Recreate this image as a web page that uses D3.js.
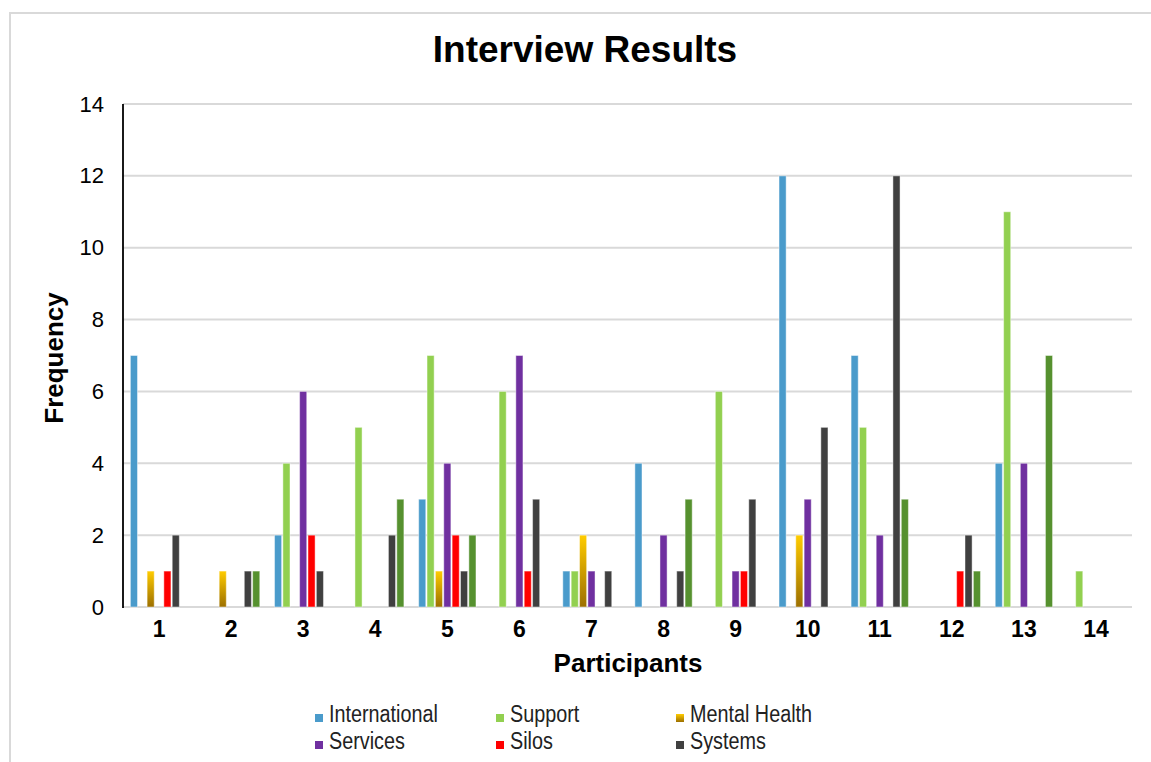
<!DOCTYPE html>
<html>
<head>
<meta charset="utf-8">
<script src="https://cdn.jsdelivr.net/npm/d3@7"></script>
<style>
  html, body { margin: 0; padding: 0; background: #fff; }
  svg { display: block; font-family: "Liberation Sans", Arial, Helvetica, sans-serif; }
</style>
</head>
<body>
<svg id="chart" width="1151" height="762"></svg>
<script>
// Participants on the x axis
const participants = ["1","2","3","4","5","6","7","8","9","10","11","12","13","14"];

// Theme counts per participant
const international = [7, 0, 2, 0, 3, 0, 1, 4, 0, 12, 7, 0, 4, 0];
const support       = [0, 0, 4, 5, 7, 6, 1, 0, 6, 0, 5, 0, 11, 1];
const mentalHealth  = [1, 1, 0, 0, 1, 0, 2, 0, 0, 2, 0, 0, 0, 0];
const services      = [0, 0, 6, 0, 4, 7, 1, 2, 1, 3, 2, 0, 4, 0];
const silos         = [1, 0, 2, 0, 2, 1, 0, 0, 1, 0, 0, 1, 0, 0];
const systems       = [2, 1, 1, 2, 1, 3, 1, 1, 3, 5, 12, 2, 0, 0];
const seventh       = [0, 1, 0, 3, 2, 0, 0, 3, 0, 0, 3, 1, 7, 0];

const seriesNames = ["International", "Support", "Mental Health", "Services", "Silos", "Systems", ""];
const seriesValues = [international, support, mentalHealth, services, silos, systems, seventh];
const seriesColors = ["#4a9bcb", "#92d050", "url(#goldGrad)", "#7030a0", "#ff0000", "#404040", "#56912f"];
const yTicks = [0, 2, 4, 6, 8, 10, 12, 14];

const svg = d3.select("#chart");
const W = 1151, H = 762;
const plot = { left: 123, right: 1132, top: 104, bottom: 607 };

// Gold-to-bronze fill used by the Mental Health bars
const defs = svg.append("defs");
const grad = defs.append("linearGradient")
  .attr("id", "goldGrad").attr("x1", 0).attr("y1", 0).attr("x2", 0).attr("y2", 1);
grad.append("stop").attr("offset", "0%").attr("stop-color", "#ffcc00");
grad.append("stop").attr("offset", "100%").attr("stop-color", "#9c6f00");

svg.append("rect").attr("width", W).attr("height", H).attr("fill", "#fff");

// Chart frame
svg.append("rect")
  .attr("x", 10).attr("y", 13).attr("width", 1160).attr("height", 770)
  .attr("fill", "none").attr("stroke", "#d9d9d9").attr("stroke-width", 2);

const x0 = d3.scaleBand()
  .domain(participants)
  .range([plot.left, plot.right])
  .paddingInner(0.17)
  .paddingOuter(0.085);

const x1 = d3.scaleBand()
  .domain(d3.range(seriesNames.length))
  .range([0, x0.bandwidth()])
  .padding(0.15);

const y = d3.scaleLinear().domain([0, 14]).range([plot.bottom, plot.top]);

// Horizontal gridlines
svg.append("g")
  .selectAll("line")
  .data(yTicks)
  .join("line")
  .attr("x1", plot.left).attr("x2", plot.right)
  .attr("y1", d => y(d)).attr("y2", d => y(d))
  .attr("stroke", "#d9d9d9").attr("stroke-width", 2);

// Y axis tick labels
const yAxis = svg.append("g")
  .attr("transform", `translate(${plot.left},0)`)
  .call(d3.axisLeft(y).tickValues(yTicks).tickSize(0).tickPadding(19));
yAxis.select(".domain").remove();
yAxis.selectAll("text")
  .attr("font-size", 22).attr("fill", "#000")
  .attr("font-family", "'Liberation Sans', Arial, sans-serif");

// Bars
const rows = participants.map((p, i) => ({ p, vals: seriesValues.map(s => s[i]) }));
const groups = svg.append("g").selectAll("g")
  .data(rows)
  .join("g")
  .attr("transform", d => `translate(${x0(d.p)},0)`);

groups.selectAll("rect")
  .data(d => d.vals.map((v, k) => ({ v, k })).filter(e => e.v > 0))
  .join("rect")
  .attr("x", e => x1(e.k))
  .attr("width", x1.bandwidth())
  .attr("y", e => y(e.v))
  .attr("height", e => y(0) - y(e.v))
  .attr("fill", e => seriesColors[e.k])
  .attr("stroke", "rgba(255,255,255,0.45)")
  .attr("stroke-width", 1);

// Y axis line
svg.append("line")
  .attr("x1", plot.left).attr("x2", plot.left)
  .attr("y1", plot.top).attr("y2", plot.bottom + 1)
  .attr("stroke", "#000").attr("stroke-width", 1.8);

// X axis tick labels
const xAxis = svg.append("g")
  .attr("transform", `translate(0,${plot.bottom})`)
  .call(d3.axisBottom(x0).tickSize(0).tickPadding(14));
xAxis.select(".domain").remove();
xAxis.selectAll("text")
  .attr("font-size", 23).attr("font-weight", "bold").attr("fill", "#000")
  .attr("font-family", "'Liberation Sans', Arial, sans-serif");

// Title and axis titles
svg.append("text")
  .attr("x", 585).attr("y", 62)
  .attr("text-anchor", "middle")
  .attr("font-size", 37).attr("font-weight", "bold")
  .text("Interview Results");

svg.append("text")
  .attr("transform", "translate(63,358) rotate(-90)")
  .attr("text-anchor", "middle")
  .attr("font-size", 26).attr("font-weight", "bold")
  .text("Frequency");

svg.append("text")
  .attr("x", 628).attr("y", 672)
  .attr("text-anchor", "middle")
  .attr("font-size", 26).attr("font-weight", "bold")
  .text("Participants");

// Legend (two rows of three)
const legendItems = seriesNames.slice(0, 6).map((name, k) => ({ name, k }));
const legend = svg.append("g");
const legendX = [315, 496, 676];
const legendY = [722, 749];
const item = legend.selectAll("g")
  .data(legendItems)
  .join("g")
  .attr("transform", d => `translate(${legendX[d.k % 3]},${legendY[Math.floor(d.k / 3)]})`);
item.append("rect")
  .attr("x", 0).attr("y", -8).attr("width", 8).attr("height", 8)
  .attr("fill", d => seriesColors[d.k]);
item.append("text")
  .attr("x", 14).attr("y", 0)
  .attr("font-size", 23).attr("fill", "#222")
  .text(d => d.name)
  .each(function () {
    const len = this.getComputedTextLength();
    d3.select(this).attr("textLength", len * 0.86).attr("lengthAdjust", "spacingAndGlyphs");
  });
</script>
</body>
</html>
